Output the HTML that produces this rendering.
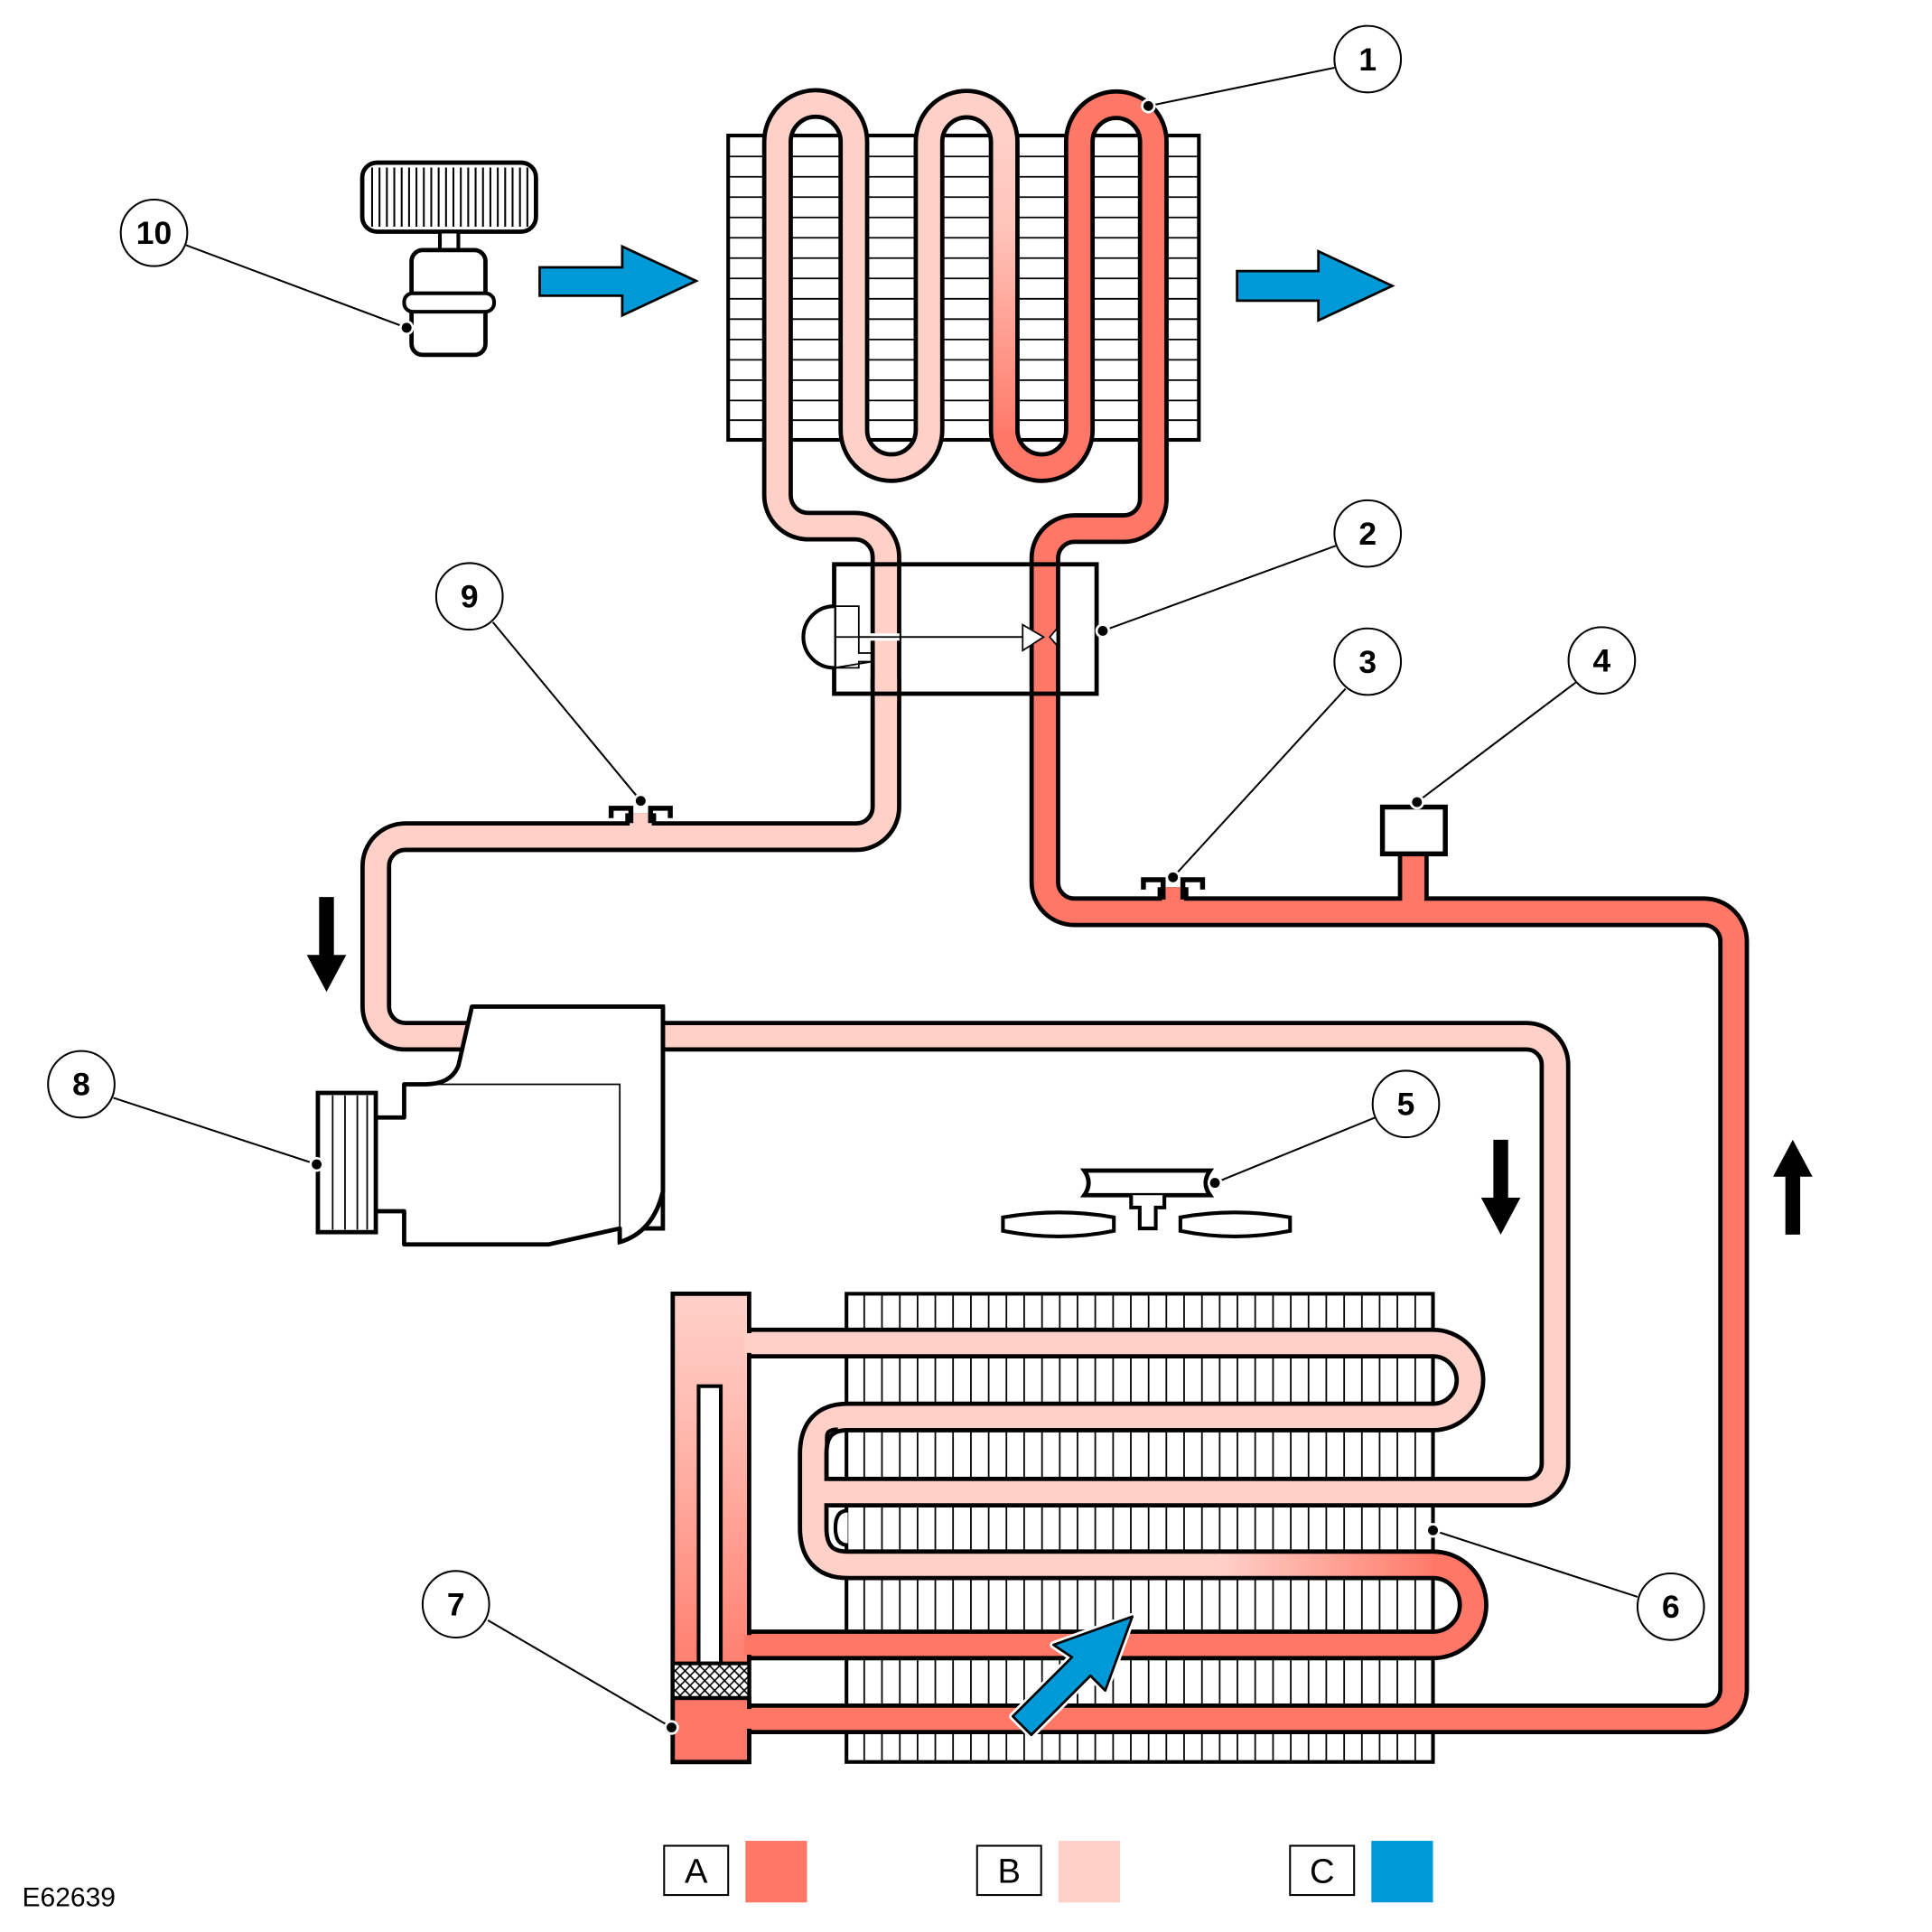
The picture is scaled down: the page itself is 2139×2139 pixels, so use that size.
<!DOCTYPE html>
<html><head><meta charset="utf-8"><style>html,body{margin:0;padding:0;background:#fff}svg{display:block}</style></head>
<body>
<svg width="2139" height="2139" viewBox="0 0 1568 1568" xmlns="http://www.w3.org/2000/svg" font-family="Liberation Sans, sans-serif">
<defs>
<linearGradient id="legG" x1="0" y1="110" x2="0" y2="360" gradientUnits="userSpaceOnUse"><stop offset="0" stop-color="#FFD0C8"/><stop offset="0.3" stop-color="#FFC4BA"/><stop offset="1" stop-color="#FF7766"/></linearGradient>
<linearGradient id="hdrG" x1="0" y1="1050" x2="0" y2="1380" gradientUnits="userSpaceOnUse"><stop offset="0" stop-color="#FFD0C8"/><stop offset="0.3" stop-color="#FFBCB2"/><stop offset="1" stop-color="#FF7766"/></linearGradient>
<linearGradient id="rowG" x1="990" y1="0" x2="1170" y2="0" gradientUnits="userSpaceOnUse"><stop offset="0" stop-color="#FFD0C8"/><stop offset="1" stop-color="#FF7766"/></linearGradient>
<pattern id="mesh" width="8" height="8" patternUnits="userSpaceOnUse"><rect width="8" height="8" fill="#fff"/><path d="M0,0L8,8M8,0L0,8" stroke="#000" stroke-width="1.2"/></pattern>
</defs>

<rect x="591" y="110" width="382" height="247" fill="#fff" stroke="#000" stroke-width="3"/>
<g stroke="#000" stroke-width="1.3">
<path d="M591,127H973M591,143.5H973M591,160H973M591,176.5H973M591,193H973M591,209.5H973M591,226H973M591,242.5H973M591,259H973M591,275.5H973M591,292H973M591,308.5H973M591,325H973M591,341H973"/>
</g>

<rect x="687" y="1050" width="476" height="380" fill="#fff" stroke="#000" stroke-width="3"/>
<g stroke="#000" stroke-width="1.3">
<path d="M701.4,1050V1430M715.8,1050V1430M730.3,1050V1430M744.7,1050V1430M759.1,1050V1430M773.5,1050V1430M788,1050V1430M802.4,1050V1430M816.8,1050V1430M831.2,1050V1430M845.7,1050V1430M860.1,1050V1430M874.5,1050V1430M888.9,1050V1430M903.4,1050V1430M917.8,1050V1430M932.2,1050V1430M946.6,1050V1430M961,1050V1430M975.5,1050V1430M989.9,1050V1430M1004.3,1050V1430M1018.7,1050V1430M1033.2,1050V1430M1047.6,1050V1430M1062,1050V1430M1076.4,1050V1430M1090.9,1050V1430M1105.3,1050V1430M1119.7,1050V1430M1134.1,1050V1430M1148.6,1050V1430"/>
</g>

<g fill="none" stroke="#000" stroke-width="25" stroke-linejoin="round">
<path d="M719,560 L719,452 A25,25 0 0 0 694,427 L656,427 A25,25 0 0 1 631,402 L631,115 A31,31 0 0 1 693,115 L693,349 A30.5,30.5 0 0 0 754,349 L754,115 A30.5,30.5 0 0 1 815,115 L815,349 A30.5,30.5 0 0 0 876,349 L876,115 A30,30 0 0 1 936,115 L936,405 A24,24 0 0 1 912,429 L872,429 A24,24 0 0 0 848,453 L848,716 A24,24 0 0 0 872,740 L1383,740 A24,24 0 0 1 1407,764 L1407,1371 A24,24 0 0 1 1383,1395 L600,1395"/>
<path d="M719,550 L719,655 A24,24 0 0 1 695,679 L329,679 A24,24 0 0 0 305,703 L305,817 A24,24 0 0 0 329,841 L390,841"/>
<path d="M530,841 L1239,841 A23,23 0 0 1 1262,864 L1262,1188 A23,23 0 0 1 1239,1211 L672,1211"/>
<path d="M600,1090 L1163,1090 A30,30 0 0 1 1163,1150 L688,1150 Q660,1150 660,1180 L660,1240 Q660,1270 688,1270 L1163,1270 A32.5,32.5 0 0 1 1163,1335 L600,1335"/>
<path d="M1147,690 L1147,735"/>
<path d="M520,660 L520,675"/>
<path d="M952,720 L952,735"/>
</g>
<g fill="none" stroke-width="18" stroke-linejoin="round">
<path stroke="#FFD0C8" d="M719,570 L719,452 A25,25 0 0 0 694,427 L656,427 A25,25 0 0 1 631,402 L631,115 A31,31 0 0 1 693,115 L693,349 A30.5,30.5 0 0 0 754,349 L754,115 A30.5,30.5 0 0 1 815,115"/>
<path stroke="url(#legG)" d="M815,114 L815,350"/>
<path stroke="#FF7766" d="M815,349 A30.5,30.5 0 0 0 876,349 L876,115 A30,30 0 0 1 936,115 L936,405 A24,24 0 0 1 912,429 L872,429 A24,24 0 0 0 848,453 L848,716 A24,24 0 0 0 872,740 L1383,740 A24,24 0 0 1 1407,764 L1407,1371 A24,24 0 0 1 1383,1395 L600,1395"/>
<path stroke="#FFD0C8" d="M719,550 L719,655 A24,24 0 0 1 695,679 L329,679 A24,24 0 0 0 305,703 L305,817 A24,24 0 0 0 329,841 L390,841"/>
<path stroke="#FFD0C8" d="M530,841 L1239,841 A23,23 0 0 1 1262,864 L1262,1188 A23,23 0 0 1 1239,1211 L665,1211"/>
<path stroke="#FFD0C8" d="M600,1090 L1163,1090 A30,30 0 0 1 1163,1150 L688,1150 Q660,1150 660,1180 L660,1240 Q660,1270 688,1270 L990,1270"/>
<path stroke="url(#rowG)" d="M989,1270 L1163,1270"/>
<path stroke="#FF7766" d="M1163,1270 A32.5,32.5 0 0 1 1163,1335 L600,1335"/>
<path stroke="#FF7766" d="M1147,690 L1147,740"/>
<path stroke="#FFD0C8" d="M520,660 L520,680"/>
<path stroke="#FF7766" d="M952,720 L952,740"/>
</g>
<path d="M688,1226 Q678,1226 678,1240 Q678,1254 688,1254" fill="#fff" stroke="#000" stroke-width="3"/>
<path d="M671,1200 L671,1166 Q671,1160 680,1160" fill="none" stroke="#000" stroke-width="3"/>

<g fill="none" stroke="#000" stroke-width="4">
<path d="M496,664 V656 H512 V668 M544,664 V656 H528 V668"/>
<path d="M928,722 V714 H944 V730 M976,722 V714 H960 V730"/>
</g>
<rect x="1122" y="655" width="51" height="38" fill="#fff" stroke="#000" stroke-width="4"/>

<rect x="677" y="458" width="213" height="105" fill="none" stroke="#000" stroke-width="3.5"/>
<g fill="#FFD0C8"><rect x="711" y="462" width="16" height="97"/></g>
<g fill="#FF7766"><rect x="840" y="462" width="16" height="97"/></g>
<path d="M677,492 A25,25 0 0 0 677,542" fill="#fff" stroke="#000" stroke-width="3"/>
<path d="M677,492 H697 V530 H708 M708,537 H697 V542 H677 Z M677,517 H830" fill="none" stroke="#000" stroke-width="1.3"/>
<rect x="706" y="514" width="24" height="6" fill="#fff"/>
<path d="M697,517 H830" stroke="#000" stroke-width="1.3"/>
<path d="M830,507 L847,517 L830,528 Z" fill="#fff" stroke="#000" stroke-width="1.3"/>
<path d="M858,510 L852,517 L858,524 Z" fill="#fff" stroke="#000" stroke-width="1.3"/>

<rect x="546" y="1050" width="62" height="380" fill="url(#hdrG)" stroke="#000" stroke-width="3.5"/>
<rect x="546" y="1378" width="62" height="52" fill="#FF7766" stroke="#000" stroke-width="3.5"/>
<rect x="567" y="1125" width="18" height="225" fill="#fff" stroke="#000" stroke-width="3"/>
<rect x="546" y="1350" width="62" height="28" fill="url(#mesh)" stroke="#000" stroke-width="3"/>
<g fill="#FFD0C8"><rect x="604" y="1082" width="8" height="16"/></g>
<g fill="#FF7766"><rect x="604" y="1327" width="8" height="16"/><rect x="604" y="1387" width="8" height="16"/></g>

<path d="M383,817 L538,817 L538,997 L503,997 L503,1008 Q530,1000 538,967" fill="#fff" stroke="#000" stroke-width="3.5"/>
<path d="M383,817 L372,865 Q366,880 345,880 L328,880 L328,907 L305,907 L305,983 L328,983 L328,1010 L445,1010 L503,997 L503,1008 Q530,1000 538,967 L538,817 Z" fill="#fff" stroke="#000" stroke-width="3.5" stroke-linejoin="round"/>
<path d="M355,880 H503 V997" fill="none" stroke="#000" stroke-width="1.3"/>
<rect x="258" y="887" width="47" height="113" fill="#fff" stroke="#000" stroke-width="3.5"/>
<path d="M270,889V998M280,889V998M290,889V998M298,889V998" stroke="#000" stroke-width="1.3"/>

<rect x="294" y="132" width="141" height="56" rx="12" fill="#fff" stroke="#000" stroke-width="3.5"/>
<path d="M302,136V184M308,136V184M314,136V184M320,136V184M326,136V184M332,136V184M338,136V184M344,136V184M350,136V184M356,136V184M362,136V184M368,136V184M374,136V184M380,136V184M386,136V184M392,136V184M398,136V184M404,136V184M410,136V184M416,136V184M422,136V184M428,136V184" stroke="#000" stroke-width="1.5"/>
<rect x="357" y="188" width="15" height="17" fill="#fff" stroke="#000" stroke-width="3"/>
<rect x="334" y="203" width="60" height="85" rx="9" fill="#fff" stroke="#000" stroke-width="3.5"/>
<rect x="328" y="238" width="73" height="15" rx="7" fill="#fff" stroke="#000" stroke-width="3"/>

<path d="M880,950 H982 Q975,960 982,970 H880 Q887,960 880,950 Z" fill="#fff" stroke="#000" stroke-width="3.5"/>
<path d="M918,970 V980 H925 V997 H938 V980 H945 V970" fill="#fff" stroke="#000" stroke-width="3"/>
<path d="M814,988 Q860,980 904,988 V999 Q860,1008 814,999 Z" fill="#fff" stroke="#000" stroke-width="3"/>
<path d="M958,988 Q1002,980 1047,988 V999 Q1002,1008 958,999 Z" fill="#fff" stroke="#000" stroke-width="3"/>

<polygon points="438,217 505,217 505,200 565,228 505,256 505,240 438,240" fill="#0099D8" stroke="#000" stroke-width="2"/>
<polygon points="1004,220 1070,220 1070,204 1130,232 1070,260 1070,244 1004,244" fill="#0099D8" stroke="#000" stroke-width="2"/>
<polygon points="822,1393 870,1345 855,1335 919,1312 897,1372 885,1360 837,1408" fill="#0099D8" stroke="#fff" stroke-width="6" stroke-linejoin="round"/>
<polygon points="822,1393 870,1345 855,1335 919,1312 897,1372 885,1360 837,1408" fill="#0099D8" stroke="#000" stroke-width="2" stroke-linejoin="round"/>

<polygon points="259,728 271,728 271,775 281,775 265,805 249,775 259,775" fill="#000"/>
<polygon points="1212,925 1224,925 1224,972 1234,972 1218,1002 1202,972 1212,972" fill="#000"/>
<polygon points="1449,1002 1461,1002 1461,955 1471,955 1455,925 1439,955 1449,955" fill="#000"/>

<g stroke="#000" stroke-width="1.5">
<line x1="1083" y1="55" x2="932" y2="86"/>
<line x1="1084" y1="443" x2="895" y2="512"/>
<line x1="1092" y1="559" x2="952" y2="712"/>
<line x1="1280" y1="553" x2="1150" y2="651"/>
<line x1="1116" y1="907" x2="986" y2="960"/>
<line x1="1329" y1="1296" x2="1163" y2="1242"/>
<line x1="396" y1="1315" x2="545" y2="1402"/>
<line x1="92" y1="891" x2="257" y2="945"/>
<line x1="400" y1="505" x2="520" y2="650"/>
<line x1="151" y1="199" x2="330" y2="266"/>
</g>
<g fill="#000" stroke="#fff" stroke-width="2">
<circle cx="932" cy="86" r="5"/><circle cx="895" cy="512" r="5"/><circle cx="952" cy="712" r="5"/><circle cx="1150" cy="651" r="5"/><circle cx="986" cy="960" r="5"/><circle cx="1163" cy="1242" r="5"/><circle cx="545" cy="1402" r="5"/><circle cx="257" cy="945" r="5"/><circle cx="520" cy="650" r="5"/><circle cx="330" cy="266" r="5"/>
</g>
<g fill="#fff" stroke="#000" stroke-width="1.5">
<circle cx="1110" cy="48" r="27"/><circle cx="1110" cy="433" r="27"/><circle cx="1110" cy="537" r="27"/><circle cx="1300" cy="536" r="27"/><circle cx="1141" cy="896" r="27"/><circle cx="1356" cy="1304" r="27"/><circle cx="370" cy="1302" r="27"/><circle cx="66" cy="880" r="27"/><circle cx="381" cy="484" r="27"/><circle cx="125" cy="189" r="27"/>
</g>
<g font-size="26" font-weight="bold" text-anchor="middle" fill="#000">
<text x="1110" y="57">1</text><text x="1110" y="442">2</text><text x="1110" y="546">3</text><text x="1300" y="545">4</text><text x="1141" y="905">5</text><text x="1356" y="1313">6</text><text x="370" y="1311">7</text><text x="66" y="889">8</text><text x="381" y="493">9</text><text x="125" y="198">10</text>
</g>

<g fill="#fff" stroke="#000" stroke-width="1.5">
<rect x="539" y="1498" width="52" height="40"/><rect x="793" y="1498" width="52" height="40"/><rect x="1047" y="1498" width="52" height="40"/>
</g>
<rect x="605" y="1494" width="50" height="50" fill="#FF7766"/>
<rect x="859" y="1494" width="50" height="50" fill="#FFD0C8"/>
<rect x="1113" y="1494" width="50" height="50" fill="#0099D8"/>
<g font-size="28" text-anchor="middle" fill="#000">
<text x="565" y="1528">A</text><text x="819" y="1528">B</text><text x="1073" y="1528">C</text>
</g>
<text x="18" y="1547" font-size="22" fill="#000">E62639</text>
</svg>
</body></html>
